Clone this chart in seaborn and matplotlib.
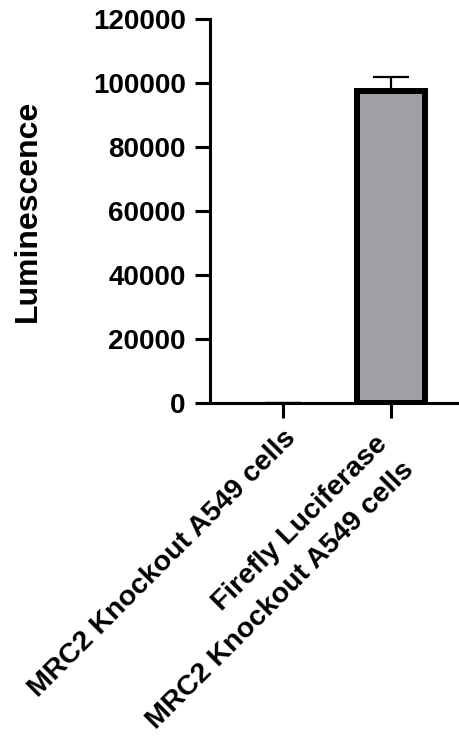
import numpy as np
import pandas as pd
import matplotlib
matplotlib.use("Agg")
import matplotlib.pyplot as plt
import matplotlib.transforms as mtrans
import seaborn as sns

categories = ["MRC2 Knockout A549 cells",
              "Firefly Luciferase\nMRC2 Knockout A549 cells"]
means = [0, 97500]
sd = [0, 4300]
yticks = [0, 20000, 40000, 60000, 80000, 100000, 120000]

sns.set_style("ticks")
plt.rcParams['font.family'] = ['Liberation Sans', 'DejaVu Sans']
plt.rcParams['font.weight'] = 'bold'
plt.rcParams.update({"text.color": "black", "axes.labelcolor": "black",
                     "xtick.color": "black", "ytick.color": "black",
                     "axes.edgecolor": "black"})

df = pd.DataFrame({"group": categories, "lum": means})

fig = plt.figure(figsize=(4.59, 7.37), dpi=100)
ax = fig.add_axes([0.4575, 0.453, 0.56, 0.521])

sns.barplot(data=df, x="group", y="lum", color="#a0a0a4", width=0.63,
            edgecolor="black", linewidth=4.3, saturation=1, ax=ax, zorder=3)
for p, v in zip(ax.patches, means):
    if v == 0:
        p.set_linewidth(0)
# upper error bar only
x = np.arange(len(categories))
ax.errorbar(x, means, yerr=[np.zeros(len(sd)), sd], fmt="none", ecolor="black",
            elinewidth=1.6, capsize=13, capthick=1.6, zorder=2)

ax.set_xlim(-0.67, 1.7)
ax.set_ylim(0, 120000)
ax.set_yticks(yticks)
ax.set_yticklabels([str(t) for t in yticks], fontsize=20, fontweight="bold")
ax.set_xlabel("")
ax.set_ylabel("Luminescence", fontsize=23, fontweight="bold", labelpad=36)
ax.set_xticks(x)
ax.set_xticklabels(categories, rotation=45, ha="right", rotation_mode="anchor",
                   fontsize=20.5, fontweight="bold", multialignment="right",
                   linespacing=1.55)

sns.despine(ax=ax)
for s in ["left", "bottom"]:
    ax.spines[s].set_linewidth(2.2)
ax.tick_params(axis="both", width=2.2, length=10.5, color="black")
ax.tick_params(axis="y", pad=7)
ax.tick_params(axis="x", pad=5)

# nudge the two-line label a little left/down like the original
lbl = ax.get_xticklabels()[1]
lbl.set_transform(lbl.get_transform() +
                  mtrans.ScaledTranslation(-0.17, -0.06, fig.dpi_scale_trans))

fig.savefig("out.png", dpi=100)
